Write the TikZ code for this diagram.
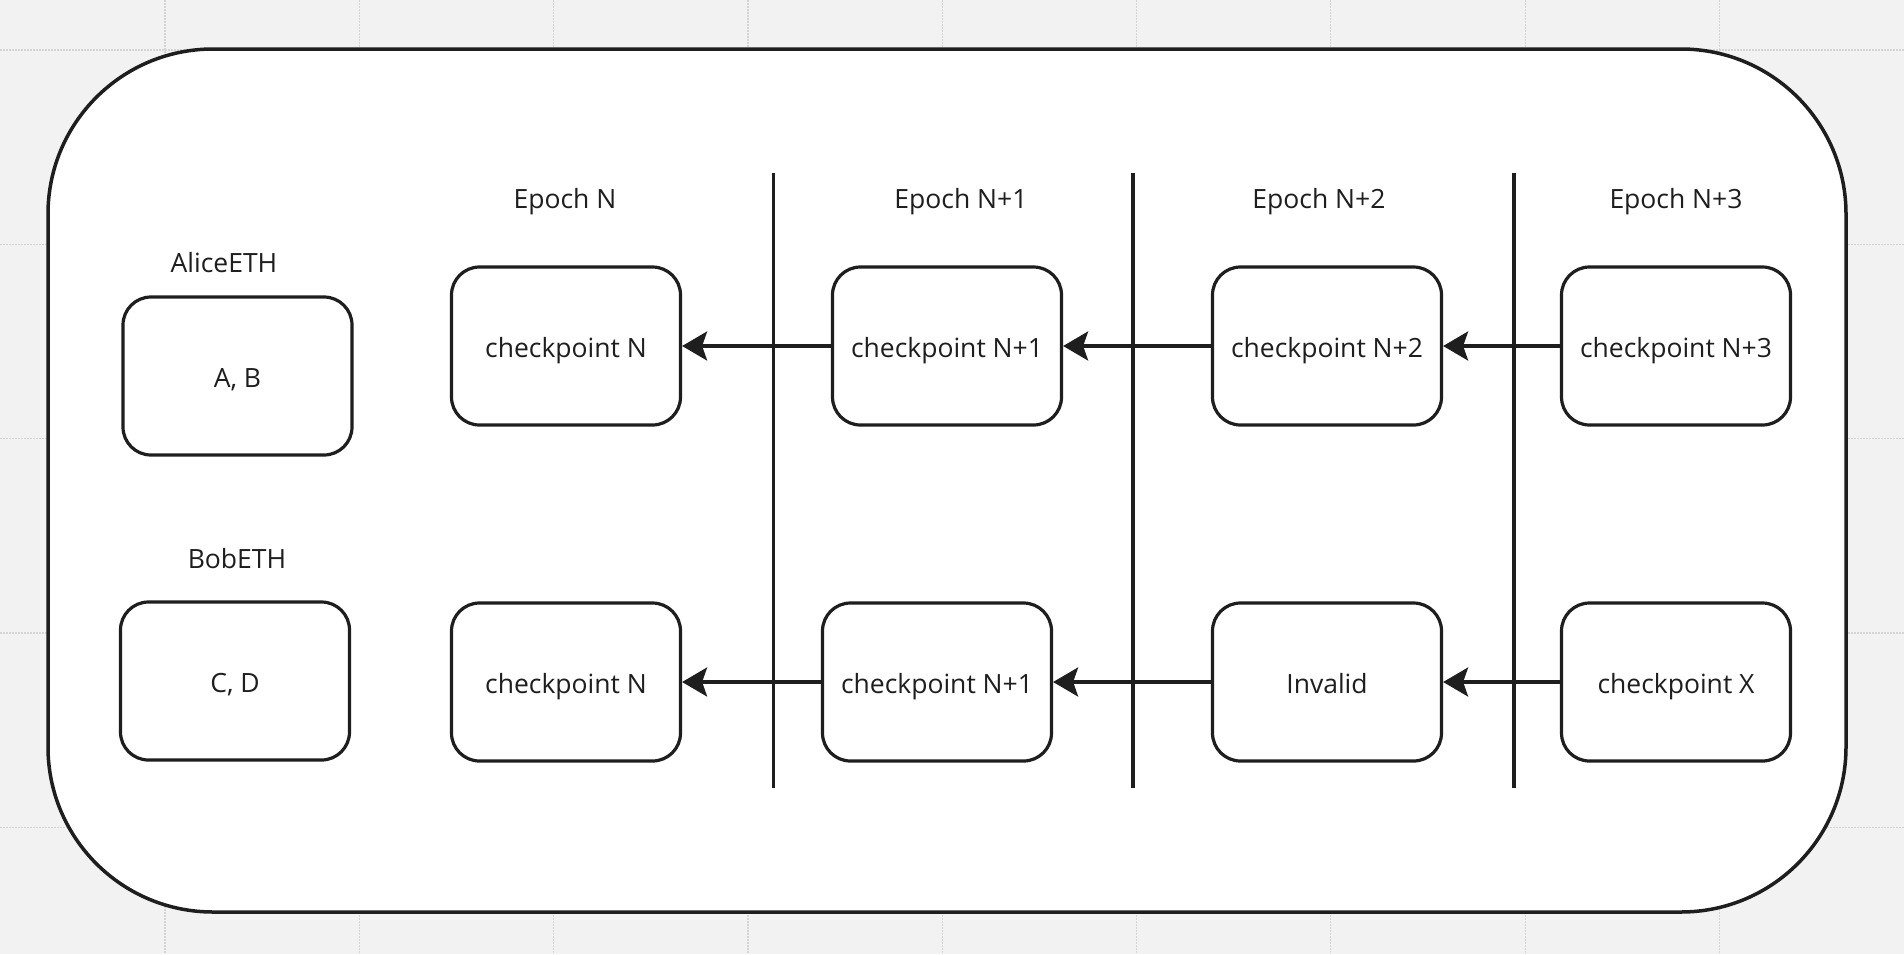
\documentclass[tikz,border=0pt]{standalone}
\usepackage{fontspec}
\setmainfont{Open Sans}
\usetikzlibrary{arrows.meta}
\definecolor{bgc}{HTML}{F2F2F2}
\definecolor{gridc}{HTML}{D4D4D4}
\definecolor{ink}{HTML}{1E1E1E}
\tikzset{
  box/.style={draw=ink, line width=3.2pt, fill=white, rounded corners=28pt,
    minimum width=229pt, minimum height=158pt, inner sep=0pt,
    text height=22pt, text depth=0pt,
    font=\fontsize{26.5}{30}\selectfont, text=ink},
  lbl/.style={anchor=base, inner sep=0pt, font=\fontsize{26.5}{30}\selectfont, text=ink},
  sep/.style={draw=ink, line width=3.2pt},
  link/.style={draw=ink, line width=3.2pt, -{Stealth[length=25pt,width=29pt,inset=5pt]}},
  gridline/.style={draw=gridc, line width=1.2pt, dash pattern=on 1.5pt off 1.5pt}
}
\begin{document}
\begin{tikzpicture}[x=1pt,y=-1pt]
\fill[bgc] (0,0) rectangle (1904,954);
\useasboundingbox (0,0) rectangle (1904,954);
% background grid
\foreach \gx in {165,359.3,553.6,747.9,942.2,1136.5,1330.8,1525.1,1719.4}
  \draw[gridline] (\gx,0) -- (\gx,954);
\foreach \gy in {50,244.3,438.6,632.9,827.2}
  \draw[gridline] (0,\gy) -- (1904,\gy);
% outer container
\draw[draw=ink, line width=3.5pt, fill=white, rounded corners=165pt] (48,49) rectangle (1846,912);
% separators
\coordinate (s1t) at (773.5,173); \coordinate (s1b) at (773.5,788);
\coordinate (s2t) at (1133,173);  \coordinate (s2b) at (1133,788);
\coordinate (s3t) at (1514,173);  \coordinate (s3b) at (1514,788);
\draw[sep] (s1t) -- (s1b);
\draw[sep] (s2t) -- (s2b);
\draw[sep] (s3t) -- (s3b);
% labels
\node[lbl] (lalice) at (224,272) {AliceETH};
\node[lbl] (lbob) at (237,568) {BobETH};
\node[lbl] (e0) at (565,208) {Epoch N};
\node[lbl] (e1) at (961,208) {Epoch N+1};
\node[lbl] (e2) at (1319,208) {Epoch N+2};
\node[lbl] (e3) at (1676,208) {Epoch N+3};
% boxes
\node[box] (alice) at (237.5,376) {A, B};
\node[box] (bob) at (235,681) {C, D};
\node[box] (a0) at (566,346) {checkpoint N};
\node[box] (a1) at (947,346) {checkpoint N+1};
\node[box] (a2) at (1327,346) {checkpoint N+2};
\node[box] (a3) at (1676,346) {checkpoint N+3};
\node[box] (b0) at (566,682) {checkpoint N};
\node[box] (b1) at (937,682) {checkpoint N+1};
\node[box] (b2) at (1327,682) {Invalid};
\node[box] (b3) at (1676,682) {checkpoint X};
% arrows
\draw[link] (a1.west) -- (a0.east);
\draw[link] (a2.west) -- (a1.east);
\draw[link] (a3.west) -- (a2.east);
\draw[link] (b1.west) -- (b0.east);
\draw[link] (b2.west) -- (b1.east);
\draw[link] (b3.west) -- (b2.east);
\end{tikzpicture}
\end{document}
